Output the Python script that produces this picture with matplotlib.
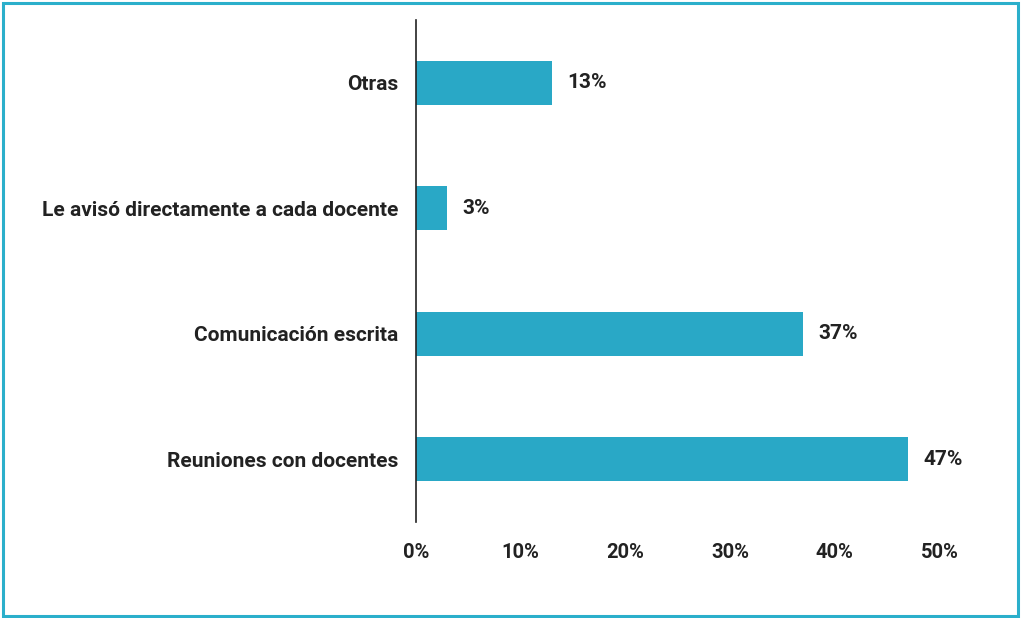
import matplotlib.pyplot as plt
from matplotlib.patches import Rectangle

categorias = ["Reuniones con docentes", "Comunicación escrita",
              "Le avisó directamente a cada docente", "Otras"]
porcentajes = [47, 37, 3, 13]
ticks = [0, 10, 20, 30, 40, 50]
tick_labels = ["0%", "10%", "20%", "30%", "40%", "50%"]

azul = "#29a8c6"
texto = "#222222"

plt.rcParams['font.family'] = ['Roboto', 'DejaVu Sans']

fig = plt.figure(figsize=(10.21, 6.18), dpi=100)
ax = fig.add_axes([416/1021, 96/618, 523.5/1021, 502/618])

pos = list(range(len(categorias)))
ax.barh(pos, porcentajes, height=0.35, color=azul)

for p, v in zip(pos, porcentajes):
    ax.annotate(f"{v}%", (v, p), xytext=(11, 0), textcoords="offset points",
                va="center", ha="left", fontsize=15, fontweight="bold", color=texto)

ax.set_yticks(pos)
ax.set_yticklabels(categorias, fontsize=15, fontweight="bold", color=texto)
ax.set_xticks(ticks)
ax.set_xticklabels(tick_labels, fontsize=14.5, fontweight="bold", color=texto)
ax.tick_params(axis="both", length=0)
ax.tick_params(axis="x", pad=15)
ax.tick_params(axis="y", pad=13)
ax.set_xlim(0, 50)
ax.set_ylim(-0.5, 3.5)

for s in ["top", "right", "bottom"]:
    ax.spines[s].set_visible(False)
ax.spines["left"].set_color("#222222")
ax.spines["left"].set_linewidth(1.2)

# marco exterior
fig.patches.append(Rectangle((3/1021, 2/618), 1015/1021, 613/618,
                             transform=fig.transFigure, fill=False,
                             edgecolor="#2bafcb", linewidth=2.2))

fig.savefig("out.png", dpi=100)
